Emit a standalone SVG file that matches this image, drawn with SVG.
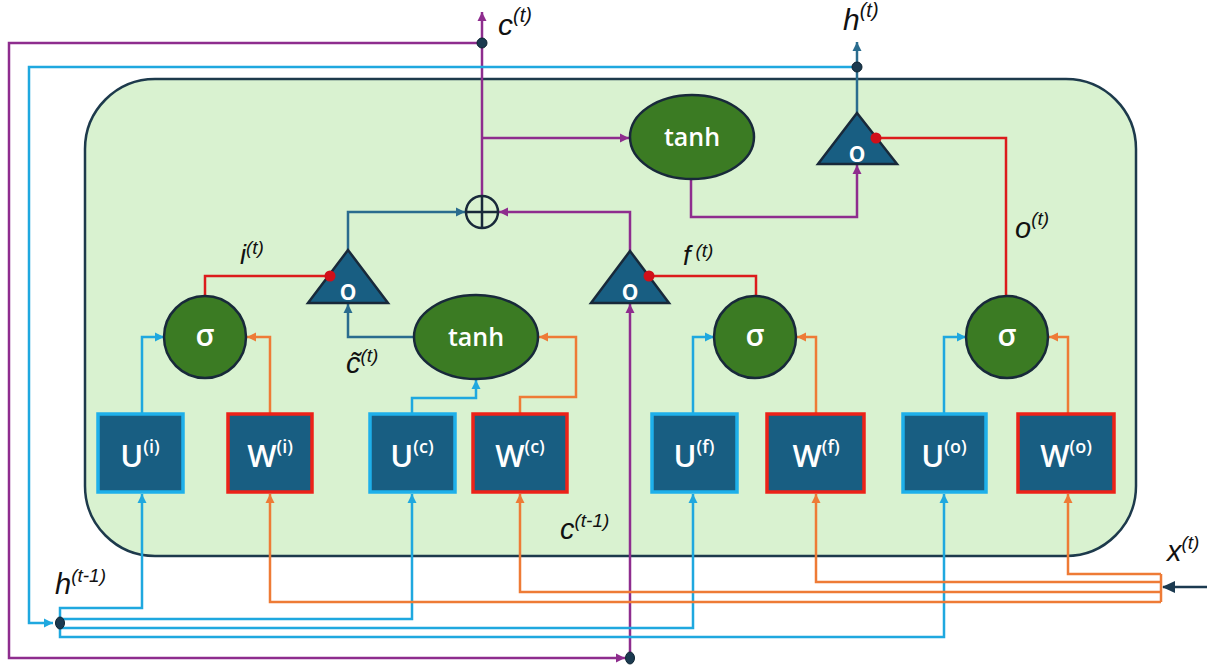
<svg xmlns="http://www.w3.org/2000/svg" width="1207" height="666" viewBox="0 0 1207 666">
<style>
.bg{fill:#d9f2d0;stroke:#1d3a4c;stroke-width:2.5}
.ln{fill:none;stroke-width:2.5}
.pu{stroke:#8e2d8e}
.cy{stroke:#1fa8df}
.tl{stroke:#2a6c8e}
.or{stroke:#ee7b36}
.rd{stroke:#dc1c1c}
.box{fill:#185e82;stroke-width:3.5}
.ub{stroke:#1eb0ea}
.wb{stroke:#ec2218}
.gn{fill:#3b7b23;stroke:#18293a;stroke-width:2.5}
.tri{fill:#185e82;stroke:#18293a;stroke-width:2.5}
.wt{fill:#ffffff;font-family:"Open Sans","Liberation Sans",sans-serif;font-weight:600;text-anchor:middle}
.lb{fill:#111111;font-family:"Liberation Sans",Arial,sans-serif;font-style:italic}
.dot{fill:#1b3a50;stroke:#0f2433;stroke-width:1}
</style>
<defs>
<marker id="aPu" markerWidth="10" markerHeight="10" refX="9" refY="5" orient="auto" markerUnits="userSpaceOnUse"><path d="M0,0.5 L9,5 L0,9.5 Z" fill="#8e2d8e"/></marker>
<marker id="aCy" markerWidth="10" markerHeight="10" refX="9" refY="5" orient="auto" markerUnits="userSpaceOnUse"><path d="M0,0.5 L9,5 L0,9.5 Z" fill="#1fa8df"/></marker>
<marker id="aTl" markerWidth="10" markerHeight="10" refX="9" refY="5" orient="auto" markerUnits="userSpaceOnUse"><path d="M0,0.5 L9,5 L0,9.5 Z" fill="#2a6c8e"/></marker>
<marker id="aOr" markerWidth="10" markerHeight="10" refX="9" refY="5" orient="auto" markerUnits="userSpaceOnUse"><path d="M0,0.5 L9,5 L0,9.5 Z" fill="#ee7b36"/></marker>
<marker id="aNv" markerWidth="14" markerHeight="14" refX="12" refY="7" orient="auto" markerUnits="userSpaceOnUse"><path d="M0,1 L13,7 L0,13 Z" fill="#1b3a50"/></marker>
</defs>

<g id="cell"><rect class="bg" x="85" y="79" width="1051" height="477" rx="70" ry="70"/></g>

<g id="connectors">
<path class="ln pu" d="M482,196 V12" marker-end="url(#aPu)"/>
<path class="ln pu" d="M482,43 H9 V658 H625" marker-end="url(#aPu)"/>
<path class="ln pu" d="M630,658 V304" marker-end="url(#aPu)"/>
<path class="ln pu" d="M482,138 H629" marker-end="url(#aPu)"/>
<path class="ln pu" d="M691,179 V217 H857 V165" marker-end="url(#aPu)"/>
<path class="ln pu" d="M630,251 V212 H499" marker-end="url(#aPu)"/>
<path class="ln tl" d="M348,250 V212 H465" marker-end="url(#aTl)"/>
<path class="ln tl" d="M414,337 H348 V304" marker-end="url(#aTl)"/>
<path class="ln tl" d="M857,113 V42" marker-end="url(#aTl)"/>
<path class="ln cy" d="M857,67 H29 V623 H53" marker-end="url(#aCy)"/>
<path class="ln cy" d="M60,623 V608 H142 V494" marker-end="url(#aCy)"/>
<path class="ln cy" d="M60,619 H412 V494" marker-end="url(#aCy)"/>
<path class="ln cy" d="M60,623 V628 H693 V494" marker-end="url(#aCy)"/>
<path class="ln cy" d="M60,628 V637 H944 V494" marker-end="url(#aCy)"/>
<path class="ln cy" d="M142,413 V337 H164" marker-end="url(#aCy)"/>
<path class="ln cy" d="M412,413 V398 H476 V380" marker-end="url(#aCy)"/>
<path class="ln cy" d="M693,413 V337 H714" marker-end="url(#aCy)"/>
<path class="ln cy" d="M944,413 V337 H966" marker-end="url(#aCy)"/>
<path class="ln" d="M1207,587 H1163" stroke="#1b3a50" stroke-width="4.5" marker-end="url(#aNv)"/>
<path class="ln or" d="M1161,574 V602"/>
<path class="ln or" d="M1161,574 H1068 V494" marker-end="url(#aOr)"/>
<path class="ln or" d="M1161,582 H816 V494" marker-end="url(#aOr)"/>
<path class="ln or" d="M1161,592 H520 V494" marker-end="url(#aOr)"/>
<path class="ln or" d="M1161,602 H270 V494" marker-end="url(#aOr)"/>
<path class="ln or" d="M270,413 V337 H247" marker-end="url(#aOr)"/>
<path class="ln or" d="M520,413 V397 H576 V337 H539" marker-end="url(#aOr)"/>
<path class="ln or" d="M816,413 V337 H797" marker-end="url(#aOr)"/>
<path class="ln or" d="M1068,413 V337 H1049" marker-end="url(#aOr)"/>
<path class="ln rd" d="M330,276 H205 V296"/>
<path class="ln rd" d="M649,276 H756 V296"/>
<path class="ln rd" d="M876,138 H1006 V296"/>
<circle class="dot" cx="482" cy="43" r="5"/>
<circle class="dot" cx="857" cy="67" r="5"/>
<ellipse class="dot" cx="60" cy="623" rx="4.5" ry="6"/>
<ellipse class="dot" cx="630" cy="658" rx="4.5" ry="6"/>
</g>

<g id="plus"><circle cx="482" cy="212" r="16" fill="none" stroke="#18293a" stroke-width="2.5"/><path d="M466,212 H498 M482,196 V228" stroke="#18293a" stroke-width="2.5"/></g>

<g id="tanh-out"><ellipse class="gn" cx="692" cy="137" rx="62" ry="42"/><text class="wt" x="692" y="146" font-size="25">tanh</text></g>
<g id="tanh-c"><ellipse class="gn" cx="476" cy="337" rx="62" ry="42"/><text class="wt" x="476" y="346" font-size="25">tanh</text></g>
<g id="sigma-i"><circle class="gn" cx="205" cy="337" r="41"/><text class="wt" x="205" y="346" font-size="30">σ</text></g>
<g id="sigma-f"><circle class="gn" cx="755" cy="337" r="41"/><text class="wt" x="755" y="346" font-size="30">σ</text></g>
<g id="sigma-o"><circle class="gn" cx="1007" cy="337" r="41"/><text class="wt" x="1007" y="346" font-size="30">σ</text></g>

<g id="mul-i"><polygon class="tri" points="348,250 308,303 388,303"/><circle cx="330" cy="276" r="5.5" fill="#d0101a"/><text class="wt" x="348" y="300" font-size="28">o</text></g>
<g id="mul-f"><polygon class="tri" points="630,251 591,303 669,303" stroke="#8e2d8e"/><circle cx="649" cy="276" r="5.5" fill="#d0101a"/><text class="wt" x="630" y="300" font-size="28">o</text></g>
<g id="mul-o"><polygon class="tri" points="857,113 818,164 897,164"/><circle cx="876" cy="138" r="5.5" fill="#d0101a"/><text class="wt" x="857" y="162" font-size="28">o</text></g>

<g id="U-i"><rect class="box ub" x="98" y="414" width="85" height="78"/><text class="wt" x="140" y="467" font-size="31">U<tspan font-size="18" dy="-14">(i)</tspan></text></g>
<g id="W-i"><rect class="box wb" x="228" y="414" width="84" height="78"/><text class="wt" x="270" y="467" font-size="31">W<tspan font-size="18" dy="-14">(i)</tspan></text></g>
<g id="U-c"><rect class="box ub" x="370" y="414" width="85" height="78"/><text class="wt" x="412" y="467" font-size="31">U<tspan font-size="18" dy="-14">(c)</tspan></text></g>
<g id="W-c"><rect class="box wb" x="473" y="414" width="94" height="78"/><text class="wt" x="520" y="467" font-size="31">W<tspan font-size="18" dy="-14">(c)</tspan></text></g>
<g id="U-f"><rect class="box ub" x="652" y="414" width="85" height="78"/><text class="wt" x="694" y="467" font-size="31">U<tspan font-size="18" dy="-14">(f)</tspan></text></g>
<g id="W-f"><rect class="box wb" x="767" y="414" width="97" height="78"/><text class="wt" x="816" y="467" font-size="31">W<tspan font-size="18" dy="-14">(f)</tspan></text></g>
<g id="U-o"><rect class="box ub" x="903" y="414" width="83" height="78"/><text class="wt" x="944" y="467" font-size="31">U<tspan font-size="18" dy="-14">(o)</tspan></text></g>
<g id="W-o"><rect class="box wb" x="1018" y="414" width="96" height="78"/><text class="wt" x="1066" y="467" font-size="31">W<tspan font-size="18" dy="-14">(o)</tspan></text></g>

<g id="labels">
<text class="lb" x="498" y="35" font-size="30">c<tspan font-size="20" dy="-13">(t)</tspan></text>
<text class="lb" x="843" y="30" font-size="30">h<tspan font-size="20" dy="-13">(t)</tspan></text>
<text class="lb" x="240" y="264" font-size="27">i<tspan font-size="19" dy="-10">(t)</tspan></text>
<text class="lb" x="683" y="265" font-size="27">f<tspan font-size="19" dy="-8" dx="5">(t)</tspan></text>
<text class="lb" x="1015" y="238" font-size="29">o<tspan font-size="19" dy="-13">(t)</tspan></text>
<text class="lb" x="346" y="373" font-size="29">c̃<tspan font-size="19" dy="-11">(t)</tspan></text>
<text class="lb" x="560" y="539" font-size="29">c<tspan font-size="19" dy="-12">(t-1)</tspan></text>
<text class="lb" x="55" y="594" font-size="29">h<tspan font-size="19" dy="-12">(t-1)</tspan></text>
<text class="lb" x="1167" y="561" font-size="29">x<tspan font-size="19" dy="-12">(t)</tspan></text>
</g>
</svg>
